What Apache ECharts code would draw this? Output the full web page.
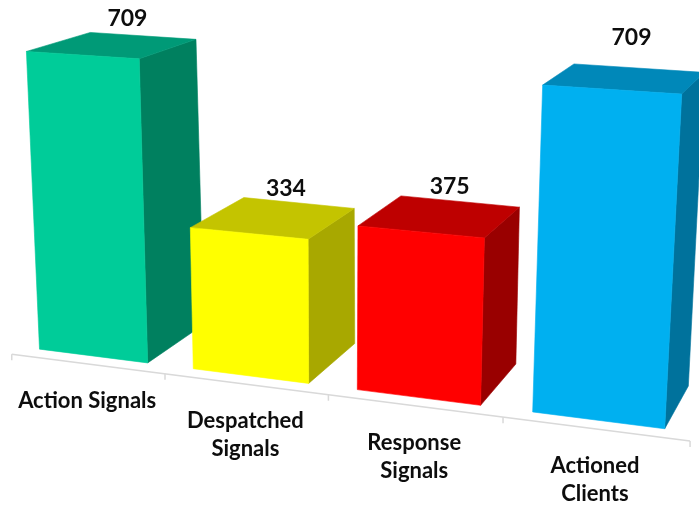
<!DOCTYPE html>
<html>
<head>
<meta charset="utf-8">
<script src="https://cdn.jsdelivr.net/npm/echarts@6/dist/echarts.min.js"></script>
<style>
  html, body { margin: 0; padding: 0; background: #ffffff; }
  #chart { width: 699px; height: 507px; }
</style>
</head>
<body>
<div id="chart"></div>
<script>
// ---- data ----
const categories = ['Action Signals', 'Despatched Signals', 'Response Signals', 'Actioned Clients'];
const tickLabels = ['Action Signals', 'Despatched\nSignals', 'Response\nSignals', 'Actioned\nClients'];
const values = [709, 334, 375, 709];

// ---- styles ----
const frontColors = ['#00CC99', '#FFFF00', '#FF0000', '#00B0F0'];
const sideColors  = ['#00805F', '#A8A800', '#990000', '#00729C'];
const topColors   = ['#009A77', '#C4C400', '#BE0000', '#0088B9'];
const labelNudgeY = [0, 0, 0, -14];   // extra vertical shift of each value label (px)
const FONT = '"Lato", "Open Sans", sans-serif';
const TEXT_COLOR = '#0D0D0D';

// ---- perspective layout (front plane of the bars, unit square -> screen quad) ----
const QUAD = [[18, 346.4], [692.5, 432.3], [711, 96], [4, 50]];
const VP = [1040, -250];     // vanishing point of the depth direction
const DEPTH_K = 0.063;       // bar depth as a fraction of the distance to VP
const BAR_GAP = 0.145;       // gap on each side of a bar, in category units

const H = (function () {
  const [x0, y0] = QUAD[0], [x1, y1] = QUAD[1], [x2, y2] = QUAD[2], [x3, y3] = QUAD[3];
  const dx1 = x1 - x2, dx2 = x3 - x2, dx3 = x0 - x1 + x2 - x3;
  const dy1 = y1 - y2, dy2 = y3 - y2, dy3 = y0 - y1 + y2 - y3;
  const den = dx1 * dy2 - dx2 * dy1;
  const g = (dx3 * dy2 - dx2 * dy3) / den;
  const h = (dx1 * dy3 - dx3 * dy1) / den;
  return {
    a: x1 - x0 + g * x1, b: x3 - x0 + h * x3, c: x0,
    d: y1 - y0 + g * y1, e: y3 - y0 + h * y3, f: y0, g: g, h: h
  };
})();

function warp(s, t) {
  const w = H.g * s + H.h * t + 1;
  return [(H.a * s + H.b * t + H.c) / w, (H.d * s + H.e * t + H.f) / w];
}

// u: category coordinate, v: value, d: depth (0 = bar front, 1 = bar back)
function proj(api, cs, u, v, d) {
  const c = api.coord([u, v]);
  const s = (c[0] - cs.x) / cs.width;
  const t = (cs.y + cs.height - c[1]) / cs.height;
  const p = warp(s, t);
  const k = DEPTH_K * d;
  return [p[0] + k * (VP[0] - p[0]), p[1] + k * (VP[1] - p[1])];
}

const vMax = Math.max.apply(null, values);
const axisV = -0.014 * vMax;
const axisD = -0.1;

const barData = values.map((v, i) => [i, v]);
const tickData = [0, 1, 2, 3, 4].map(u => [u, 0]);
const catData = categories.map((c, i) => [i + 0.5, 0]);

const chart = echarts.init(document.getElementById('chart'), null, { renderer: 'canvas' });

chart.setOption({
  backgroundColor: '#ffffff',
  animation: false,
  grid: { left: 0, right: 0, top: 0, bottom: 0 },
  xAxis: { type: 'value', min: 0, max: categories.length, show: false },
  yAxis: { type: 'value', min: 0, max: vMax, show: false },
  series: [
    {
      type: 'custom',
      name: 'axis',
      z: 1,
      silent: true,
      clip: false,
      data: tickData,
      renderItem: function (params, api) {
        const cs = params.coordSys;
        const u = api.value(0);
        const p = proj(api, cs, u, axisV, axisD);
        const children = [{
          type: 'line',
          shape: { x1: p[0], y1: p[1], x2: p[0], y2: p[1] + 6 },
          style: { stroke: '#D9D9D9', lineWidth: 1.5 }
        }];
        if (params.dataIndex === 0) {
          const q = proj(api, cs, categories.length, axisV, axisD);
          children.push({
            type: 'line',
            shape: { x1: p[0], y1: p[1], x2: q[0], y2: q[1] },
            style: { stroke: '#D9D9D9', lineWidth: 1.5 }
          });
        }
        return { type: 'group', children: children };
      }
    },
    {
      type: 'custom',
      name: 'bars',
      z: 2,
      clip: false,
      data: barData,
      renderItem: function (params, api) {
        const cs = params.coordSys;
        const i = api.value(0), v = api.value(1);
        const u0 = i + BAR_GAP, u1 = i + 1 - BAR_GAP;
        const FBL = proj(api, cs, u0, 0, 0), FBR = proj(api, cs, u1, 0, 0);
        const FTL = proj(api, cs, u0, v, 0), FTR = proj(api, cs, u1, v, 0);
        const BTL = proj(api, cs, u0, v, 1), BTR = proj(api, cs, u1, v, 1);
        const BBR = proj(api, cs, u1, 0, 1);
        const L = proj(api, cs, i + 0.5, v, 0.75);
        const poly = (pts, col) => ({
          type: 'polygon', shape: { points: pts },
          style: { fill: col, stroke: col, lineWidth: 0.6 }
        });
        return {
          type: 'group',
          children: [
            poly([FBR, FTR, BTR, BBR], sideColors[i]),
            poly([FTL, FTR, BTR, BTL], topColors[i]),
            poly([FBL, FBR, FTR, FTL], frontColors[i]),
            {
              type: 'text',
              style: {
                text: String(v), x: L[0], y: L[1] - 22 + labelNudgeY[i],
                align: 'center', verticalAlign: 'middle',
                textAlign: 'center', textVerticalAlign: 'middle',
                font: 'bold 23px ' + FONT, fill: TEXT_COLOR
              }
            }
          ]
        };
      }
    },
    {
      type: 'custom',
      name: 'categoryLabels',
      z: 3,
      silent: true,
      clip: false,
      data: catData,
      renderItem: function (params, api) {
        const cs = params.coordSys;
        const p = proj(api, cs, api.value(0), axisV, axisD);
        return {
          type: 'text',
          style: {
            text: tickLabels[params.dataIndex], x: p[0], y: p[1] + 23,
            align: 'center', verticalAlign: 'top',
            textAlign: 'center', textVerticalAlign: 'top',
            lineHeight: 28,
            font: 'bold 22px ' + FONT, fill: TEXT_COLOR
          }
        };
      }
    }
  ]
});
</script>
</body>
</html>
